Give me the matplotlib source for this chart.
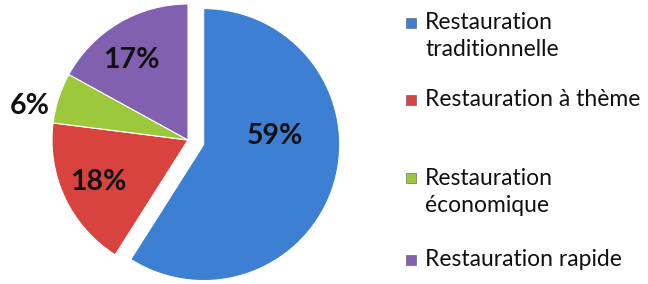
import matplotlib.pyplot as plt
import matplotlib.patches as mpatches
import numpy as np

labels = ["Restauration\ntraditionnelle", "Restauration à thème",
          "Restauration\néconomique", "Restauration rapide"]
shares = [59, 18, 6, 17]
colors = ["#3d7fd3", "#d8423f", "#9cc83c", "#8160b0"]

plt.rcParams["font.family"] = ["Lato", "DejaVu Sans"]

fig = plt.figure(figsize=(6.48, 2.84), dpi=100)
ax = fig.add_axes([0, 0, 1, 1])

cx, cy, r = 188, 144, 136
wedges, _ = ax.pie(shares, colors=colors, startangle=90, counterclock=False,
                   explode=[0.12 * r, 0, 0, 0], center=(cx, cy), radius=r,
                   wedgeprops=dict(edgecolor="white", linewidth=0.8), frame=True)
ax.set_xlim(0, 648)
ax.set_ylim(0, 284)
ax.set_aspect("equal")
ax.axis("off")

# label placement: distance (fraction of radius) and angle tweak per slice
dist = [0.53, 0.73, 1.19, 0.72]
tweak = [23, 0, 6, 5]
for w, val, d, t in zip(wedges, shares, dist, tweak):
    mid = np.deg2rad((w.theta1 + w.theta2) / 2 + t)
    x0, y0 = w.center
    ax.text(x0 + d * r * np.cos(mid), y0 + d * r * np.sin(mid), f"{val}%",
            ha="center", va="center", fontsize=20.5, fontweight="bold", color="#111111")

# legend, drawn by hand to match the uneven spacing
box_y = [23, 100, 178, 260]
text_y = [36, 100, 192, 260]
for lab, col, yb, yt in zip(labels, colors, box_y, text_y):
    ax.add_patch(mpatches.Rectangle((406, 284 - yb - 5), 10, 10, facecolor=col,
                                    edgecolor="#555555", linewidth=0.4))
    ax.text(425, 284 - yt, lab, ha="left", va="center",
            fontsize=16.5, color="#111111", linespacing=1.35)

fig.savefig("out.png", dpi=100)
